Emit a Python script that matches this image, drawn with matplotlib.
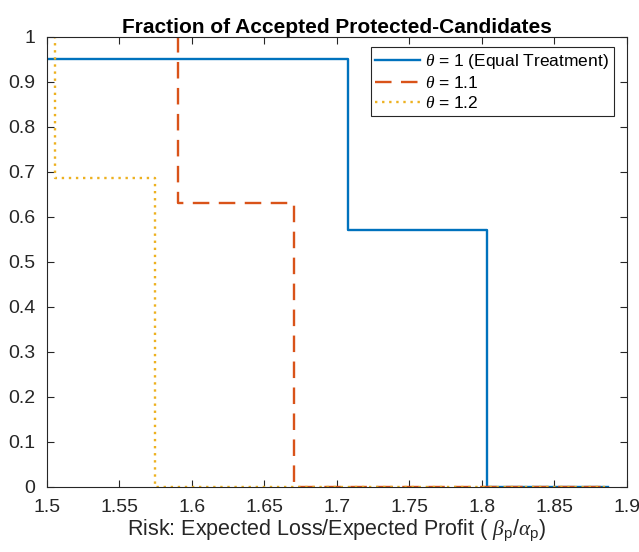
import numpy as np
import matplotlib.pyplot as plt

plt.rcParams['font.family'] = ['Liberation Sans', 'DejaVu Sans']
plt.rcParams['mathtext.fontset'] = 'custom'
plt.rcParams['mathtext.rm'] = 'Liberation Sans'
plt.rcParams['mathtext.it'] = 'Liberation Serif:italic'
plt.rcParams['mathtext.bf'] = 'Liberation Sans:bold'

# step breakpoints (risk ratio) and accepted fractions for each theta
x_eq = [1.5, 1.7078, 1.8039, 1.887]
y_eq = [0.952, 0.572, 0.0, 0.0]

x_11 = [1.590, 1.5905, 1.6706, 1.887]
y_11 = [1.0, 0.630, 0.0, 0.0]

x_12 = [1.505, 1.5055, 1.5745, 1.887]
y_12 = [1.0, 0.687, 0.0, 0.0]

labels = [r'$\theta$ = 1 (Equal Treatment)', r'$\theta$ = 1.1', r'$\theta$ = 1.2']
colors = ['#0072BD', '#D95319', '#EDB120']

xticks = np.arange(1.5, 1.9001, 0.05)
yticks = np.arange(0, 1.0001, 0.1)

# ====================================================
def main():
	fig = plt.figure(figsize=(6.39, 5.52), dpi=100)
	ax = fig.add_axes([0.073, 0.118, 0.908, 0.815])

	ax.step(x_eq, y_eq, where='post', color=colors[0], lw=1.7, label=labels[0])
	ax.step(x_11, y_11, where='post', color=colors[1], lw=1.7, ls=(0, (7, 4)), label=labels[1])
	ax.step(x_12, y_12, where='post', color=colors[2], lw=1.7, ls=(0, (1, 2)), label=labels[2])

	ax.set_xlim(1.5, 1.9)
	ax.set_ylim(0, 1)
	ax.set_xticks(xticks)
	ax.set_xticklabels(['%g' % round(v, 2) for v in xticks])
	ax.set_yticks(yticks)
	ax.set_yticklabels(['%g' % round(v, 1) for v in yticks])
	ax.tick_params(direction='in', top=True, right=True, labelsize=14,
		colors='#262626', length=5, width=0.8)
	ax.tick_params(axis='x', pad=9)
	ax.tick_params(axis='y', pad=8)
	for s in ax.spines.values():
		s.set_color('#262626')
		s.set_linewidth(0.8)

	ax.set_title('Fraction of Accepted Protected-Candidates', fontsize=15,
		fontweight='bold', pad=3)
	ax.set_xlabel(r'Risk: Expected Loss/Expected Profit ( $\beta_{\mathrm{p}}/\alpha_{\mathrm{p}}$)',
		fontsize=15.5, color='#262626', labelpad=1)

	leg = ax.legend(loc='upper right', bbox_to_anchor=(0.977, 0.977), fontsize=12.5,
		fancybox=False, framealpha=1, edgecolor='#262626', handlelength=2.6,
		borderpad=0.25, labelspacing=0.25, handletextpad=0.3, borderaxespad=0)
	leg.get_frame().set_linewidth(0.8)

	fig.savefig('out.png', dpi=100)

# ====================================================
if __name__ == "__main__":
	main()
